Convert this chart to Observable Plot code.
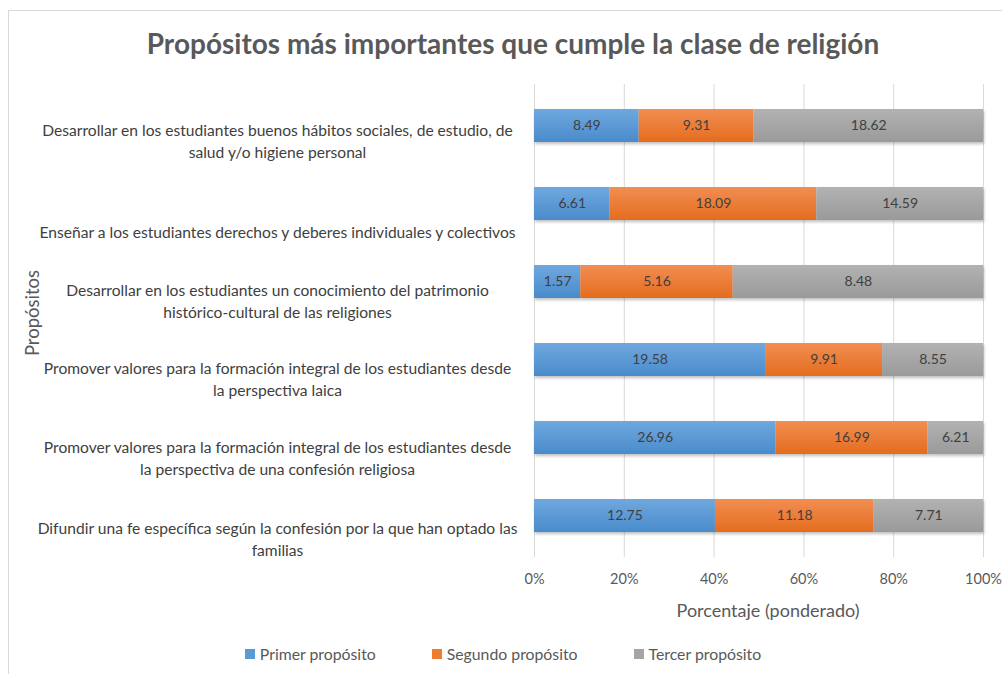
<!DOCTYPE html>
<html>
<head>
<meta charset="utf-8">
<script src="https://cdn.jsdelivr.net/npm/d3@7"></script>
<script src="https://cdn.jsdelivr.net/npm/@observablehq/plot@0.6"></script>
<style>
  body { margin: 0; background: #fff; font-family: Lato, "Open Sans", sans-serif; }
  #frame { position: absolute; left: 8px; top: 10px; width: 1010px; height: 680px; border: 1px solid #d9d9d9; box-sizing: border-box; }
  #title { position: absolute; left: 8px; width: 1010px; top: 26px; text-align: center; font-size: 28px; font-weight: bold; color: #595959; }
  #chart { position: absolute; left: 0; top: 70px; }
  #legend { position: absolute; top: 644px; left: 0; width: 1006px; display: flex; justify-content: center; font-size: 15.8px; color: #595959; }
  .item { display: flex; align-items: center; margin: 0 28px; }
  .sw { width: 10px; height: 10px; margin-right: 5px; }
</style>
</head>
<body>
<svg width="0" height="0" style="position:absolute">
  <defs>
    <linearGradient id="gBlue" x1="0" y1="0" x2="0" y2="1">
      <stop offset="0" stop-color="#6FA8DF"/><stop offset="1" stop-color="#4A8BCB"/>
    </linearGradient>
    <linearGradient id="gOrange" x1="0" y1="0" x2="0" y2="1">
      <stop offset="0" stop-color="#F28E52"/><stop offset="1" stop-color="#E46C1E"/>
    </linearGradient>
    <linearGradient id="gGray" x1="0" y1="0" x2="0" y2="1">
      <stop offset="0" stop-color="#B2B2B2"/><stop offset="1" stop-color="#9A9A9A"/>
    </linearGradient>
    <filter id="shadow" x="-5%" y="-20%" width="110%" height="160%">
      <feDropShadow dx="1" dy="2" stdDeviation="1.5" flood-color="#000" flood-opacity="0.25"/>
    </filter>
  </defs>
</svg>
<div id="frame"></div>
<div id="title">Propósitos más importantes que cumple la clase de religión</div>
<div id="chart"></div>
<div id="legend"></div>
<script>
const categories = [
  "Desarrollar en los estudiantes buenos hábitos sociales, de estudio, de salud y/o higiene personal",
  "Enseñar a los estudiantes derechos y deberes individuales y colectivos",
  "Desarrollar en los estudiantes un conocimiento del patrimonio histórico-cultural de las religiones",
  "Promover valores para la formación integral de los estudiantes desde la perspectiva laica",
  "Promover valores para la formación integral de los estudiantes desde la perspectiva de una confesión religiosa",
  "Difundir una fe específica según la confesión por la que han optado las familias"
];
const tickLabels = [
  "Desarrollar en los estudiantes buenos hábitos sociales, de estudio, de\nsalud y/o higiene personal",
  "Enseñar a los estudiantes derechos y deberes individuales y colectivos",
  "Desarrollar en los estudiantes un conocimiento del patrimonio\nhistórico-cultural de las religiones",
  "Promover valores para la formación integral de los estudiantes desde\nla perspectiva laica",
  "Promover valores para la formación integral de los estudiantes desde\nla perspectiva de una confesión religiosa",
  "Difundir una fe específica según la confesión por la que han optado las\nfamilias"
];
const seriesNames = ["Primer propósito", "Segundo propósito", "Tercer propósito"];
const primer  = [8.49, 6.61, 1.57, 19.58, 26.96, 12.75];
const segundo = [9.31, 18.09, 5.16, 9.91, 16.99, 11.18];
const tercer  = [18.62, 14.59, 8.48, 8.55, 6.21, 7.71];
const xTicks = [0, 0.2, 0.4, 0.6, 0.8, 1];
const swatchColors = ["#5B9BD5", "#ED7D31", "#A5A5A5"];
const fillUrls = ["url(#gBlue)", "url(#gOrange)", "url(#gGray)"];

const seriesValues = [primer, segundo, tercer];
const data = [];
categories.forEach((c, i) => {
  seriesNames.forEach((s, j) => data.push({cat: c, series: s, value: seriesValues[j][i]}));
});
const labelOf = new Map(categories.map((c, i) => [c, tickLabels[i]]));

// vertical offset of each category label relative to its bar (layout only)
const labelDy = [14, 27, 17.5, 18, 19, 21.5];
const yLabelAxes = categories.map((c, i) => Plot.axisY([c], {
  anchor: "left", tickSize: 0, textAnchor: "middle", dx: -248, dy: labelDy[i],
  lineHeight: 1.41, fontSize: 15.6, fill: "#404040", tickFormat: d => labelOf.get(d), label: null
}));

const stackOpts = {x: "value", y: "cat", z: "series", offset: "normalize", order: seriesNames};

const chart = Plot.plot({
  width: 1002,
  height: 555,
  marginLeft: 534,
  marginRight: 19,
  marginTop: 14,
  marginBottom: 68,
  style: {fontFamily: "Lato, 'Open Sans', sans-serif", background: "transparent", overflow: "visible"},
  x: {domain: [0, 1], axis: null},
  y: {domain: categories, paddingInner: 0.58, paddingOuter: 0.29, axis: null},
  color: {domain: seriesNames, range: fillUrls},
  marks: [
    Plot.gridX(xTicks, {stroke: "#d9d9d9", strokeOpacity: 1, strokeWidth: 1}),
    Plot.barX(data, Plot.stackX({...stackOpts, fill: "series"})),
    Plot.text(data, Plot.stackX({...stackOpts, text: d => d.value.toFixed(2), fill: "#404040", fontSize: 14})),
    Plot.axisX(xTicks, {anchor: "bottom", tickSize: 0, tickPadding: 16, tickFormat: d3.format(".0%"), fontSize: 14.5, fill: "#595959", label: null}),
    ...yLabelAxes,
    Plot.text(["Porcentaje (ponderado)"], {frameAnchor: "bottom", lineAnchor: "middle", dy: 54, dx: 9, fontSize: 18, fill: "#595959"}),
    Plot.text(["Propósitos"], {frameAnchor: "left", textAnchor: "middle", rotate: -90, dx: -501, dy: -8, fontSize: 18.5, fill: "#595959"})
  ]
});
d3.select(chart).selectAll("g[aria-label='bar']").attr("filter", "url(#shadow)");
document.getElementById("chart").appendChild(chart);

const legend = document.getElementById("legend");
seriesNames.forEach((s, i) => {
  const it = document.createElement("div");
  it.className = "item";
  const sw = document.createElement("div");
  sw.className = "sw";
  sw.style.background = swatchColors[i];
  const tx = document.createElement("span");
  tx.textContent = s;
  it.appendChild(sw); it.appendChild(tx);
  legend.appendChild(it);
});
</script>
</body>
</html>
